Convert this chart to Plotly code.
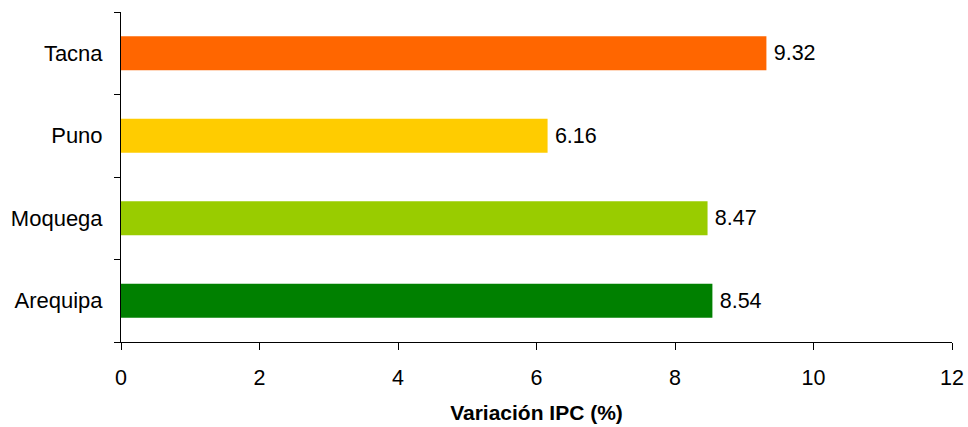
import plotly.graph_objects as go

regions = ["Arequipa", "Moquega", "Puno", "Tacna"]
ipc_var = [8.54, 8.47, 6.16, 9.32]
bar_colors = ["#008000", "#99CC00", "#FFCC00", "#FF6600"]
x_ticks = [0, 2, 4, 6, 8, 10, 12]

FONT = "Liberation Sans, Arial, sans-serif"

fig = go.Figure(
    go.Bar(
        x=ipc_var,
        y=regions,
        orientation="h",
        marker={"color": bar_colors, "line": {"width": 0}},
        text=[f"\u2009{v:.2f}" for v in ipc_var],
        textposition="outside",
        textfont={"size": 21.5, "color": "#000000", "family": FONT},
        cliponaxis=False,
        width=0.41,
    )
)

fig.update_layout(
    width=968,
    height=427,
    paper_bgcolor="white",
    plot_bgcolor="white",
    font={"family": FONT, "size": 22, "color": "#000000"},
    margin={"l": 121, "r": 16, "t": 12, "b": 85, "autoexpand": False},
    showlegend=False,
)

fig.update_xaxes(
    range=[0, 12],
    tickvals=x_ticks,
    showgrid=False,
    zeroline=False,
    showline=True,
    linecolor="#000000",
    linewidth=1,
    ticks="outside",
    ticklen=7,
    tickcolor="#000000",
    tickfont={"size": 21.5},
    ticklabelstandoff=9,
    automargin=False,
    title={"text": "<b>Variación IPC (%)</b>", "font": {"size": 21}, "standoff": 16},
)
fig.update_yaxes(
    showgrid=False,
    zeroline=False,
    showline=True,
    linecolor="#000000",
    linewidth=1,
    ticks="outside",
    ticklen=6,
    tickcolor="#000000",
    tickson="boundaries",
    ticklabelstandoff=13,
    automargin=False,
)

# drop the default body margin so the 968x427 figure fills the window exactly
fig.write_html(
    "out.html",
    config={"displayModeBar": False},
    post_script="document.body.style.margin = '0';",
)
